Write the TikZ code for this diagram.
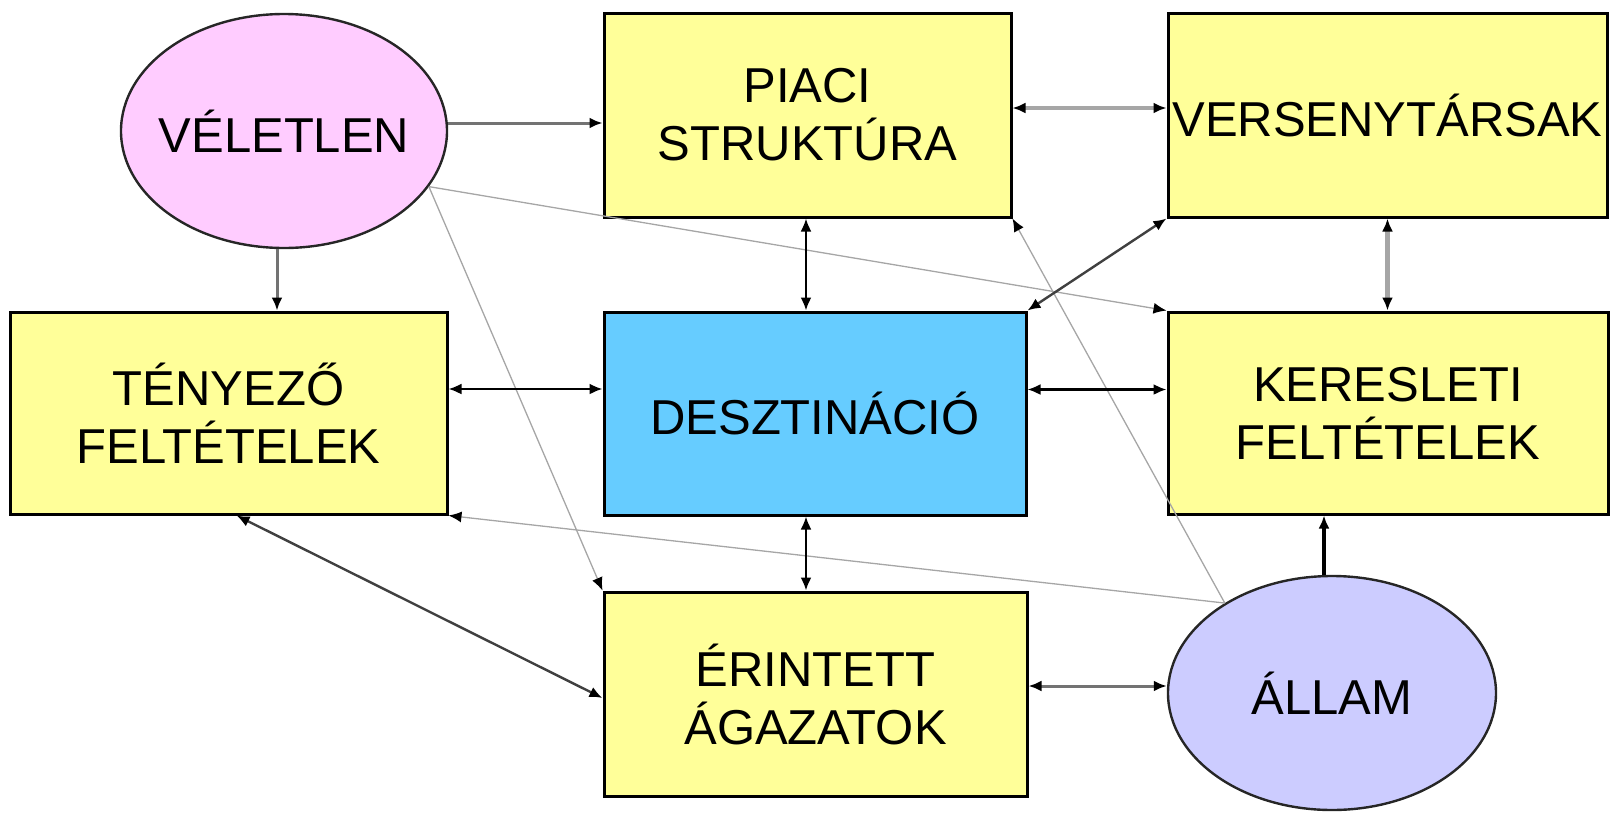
\documentclass[tikz,border=0pt]{standalone}
\usepackage{fontspec}
\setmainfont{Liberation Sans}
\usetikzlibrary{shapes.geometric,arrows.meta}
\definecolor{boxyellow}{HTML}{FFFF99}
\definecolor{boxblue}{HTML}{66CCFF}
\definecolor{ovalpink}{HTML}{FFCCFF}
\definecolor{ovallav}{HTML}{CCCCFF}
\tikzset{
  every node/.style={font=\fontsize{24.5}{29}\selectfont, align=center, inner sep=0pt, text=black},
  box/.style={rectangle, draw=black, line width=1.5pt, fill=boxyellow},
  oval/.style={ellipse, draw=black!85, line width=1.2pt, minimum width=163pt, minimum height=117pt},
  tip/.style={-{Latex[color=black,length=6.5pt,width=5.5pt]}},
  tips/.style={{Latex[color=black,length=6.5pt,width=5.5pt]}-{Latex[color=black,length=6.5pt,width=5.5pt]}},
  blackline/.style={draw=black, line width=1.1pt},
  darkline/.style={draw=black!75, line width=1.2pt},
  midline/.style={draw=black!55, line width=1.5pt},
  thickgray/.style={draw=black!35, line width=2.3pt},
  thingray/.style={draw=black!35, line width=0.65pt},
}
\begin{document}
\begin{tikzpicture}[x=0.5pt,y=-0.5pt]
\useasboundingbox (0,0) rectangle (1614,815);
% nodes
\node[oval, fill=ovalpink] (vel) at (284,131) {\makebox[0pt]{VÉLETLEN}};
\node[box, minimum width=203.5pt, minimum height=102pt] (piaci) at (807.5,115) {PIACI\\STRUKTÚRA};
\node[box, minimum width=219.5pt, minimum height=102pt] (vers) at (1387.5,115) {VERSENYTÁRSAK};
\node[box, minimum width=218.5pt, minimum height=101pt] (teny) at (228.5,413) {TÉNYEZŐ\\FELTÉTELEK};
\node[box, fill=boxblue, minimum width=211pt, minimum height=101.5pt] (deszt) at (815,413.5) {DESZTINÁCIÓ};
\node[box, minimum width=220pt, minimum height=101pt] (keres) at (1388,413) {KERESLETI\\FELTÉTELEK};
\node[box, minimum width=211.5pt, minimum height=102pt] (erint) at (815.5,694) {ÉRINTETT\\ÁGAZATOK};
\node[oval, fill=ovallav, minimum width=164pt] (allam) at (1332,693) {\makebox[0pt]{ÁLLAM}};
% thin gray connectors
\draw[thingray, tip] (vel.-21) -- (keres.north west);
\draw[thingray, tip] (vel.-21) -- (erint.north west);
\draw[thingray, tip] (allam.140) -- (teny.south east);
\draw[thingray, tip] (allam.140) -- (piaci.south east);
% other connectors
\draw[midline, tip] ([yshift=-4pt]piaci.west -| vel.east) -- ([yshift=-4pt]piaci.west);
\draw[midline, tip] ([xshift=-3.5pt]vel.south) -- ([xshift=-3.5pt]vel.south |- teny.north);
\draw[thickgray, tips] ([yshift=3.5pt]piaci.east) -- ([yshift=3.5pt]piaci.east -| vers.west);
\draw[blackline, tips] ([xshift=-0.75pt]piaci.south) -- ([xshift=-0.75pt]piaci.south |- deszt.north);
\draw[thickgray, tips] (vers.south) -- (vers.south |- keres.north);
\draw[darkline, tips] (deszt.north east) -- (vers.south west);
\draw[blackline, tips] ([yshift=12pt]teny.east) -- ([yshift=12pt]teny.east -| deszt.west);
\draw[blackline, tips] ([yshift=12pt]deszt.east) -- ([yshift=12pt]deszt.east -| keres.west);
\draw[blackline, tips] ([xshift=-4.5pt]deszt.south) -- ([xshift=-4.5pt]deszt.south |- erint.north);
\draw[darkline, tips] ([xshift=4pt]teny.south) -- ([yshift=-2pt]erint.west);
\draw[midline, tips] ([yshift=4pt]erint.east) -- ([yshift=4pt]erint.east -| allam.west);
\draw[draw=black, line width=1.6pt, tip] ([xshift=-4pt]allam.north) -- ([xshift=-4pt]allam.north |- keres.south);
\end{tikzpicture}
\end{document}
